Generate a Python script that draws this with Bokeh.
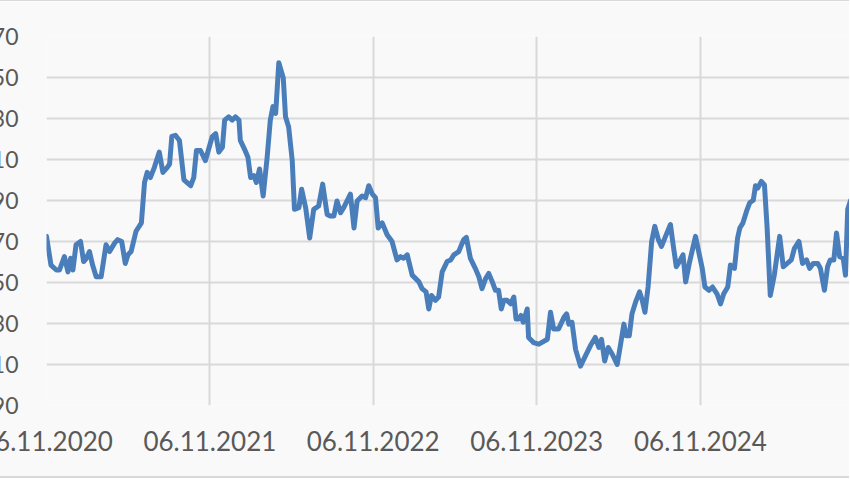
from datetime import datetime, timedelta
import pandas as pd
from bokeh.plotting import figure
from bokeh.models import FixedTicker, DatetimeTickFormatter, Range1d
from bokeh.embed import file_html
from bokeh.resources import INLINE

start_date = "2020-11-06"
day_offsets = [0, 10, 22, 29, 40, 48, 54, 59, 66, 76, 83, 89, 96, 103, 111, 122, 133, 141, 152, 159,
               168, 176, 182, 189, 200, 212, 219, 225, 232, 241, 252, 260, 270, 275, 280, 288, 297, 307, 322, 329,
               335, 344, 355, 370, 378, 385, 393, 398, 407, 415, 422, 430, 433, 442, 450, 456, 463, 469, 476, 484,
               493, 500, 506, 512, 519, 529, 534, 541, 549, 554, 564, 570, 579, 588, 597, 608, 617, 627, 634, 642,
               649, 657, 664, 679, 687, 694, 705, 713, 720, 728, 735, 741, 750, 761, 772, 783, 791, 798, 806, 817,
               832, 839, 848, 854, 860, 869, 876, 884, 895, 903, 910, 921, 932, 938, 947, 958, 966, 973, 981, 988,
               996, 1003, 1010, 1016, 1022, 1029, 1037, 1044, 1049, 1055, 1060, 1065, 1074, 1077, 1088, 1100, 1119, 1126, 1133, 1144,
               1156, 1162, 1167, 1174, 1182, 1193, 1204, 1215, 1226, 1234, 1240, 1247, 1255, 1264, 1275, 1282, 1290, 1295, 1302, 1308,
               1316, 1325, 1331, 1337, 1344, 1352, 1359, 1367, 1374, 1383, 1394, 1399, 1407, 1414, 1422, 1428, 1436, 1450, 1457, 1465,
               1471, 1480, 1488, 1498, 1506, 1513, 1522, 1528, 1537, 1544, 1549, 1556, 1564, 1571, 1579, 1584, 1589, 1597, 1604, 1610,
               1617, 1626, 1638, 1646, 1655, 1664, 1671, 1681, 1689, 1698, 1705, 1713, 1723, 1729, 1738, 1745, 1751, 1759, 1765, 1772,
               1780, 1785, 1790, 1796, 1805]
values = [172.5, 158.5, 156.1, 156.1, 162.6, 155.2, 161.8, 156.1, 168.4, 170.0, 160.2, 161.8, 165.1, 158.5, 152.8, 152.8, 168.4, 165.1, 169.2, 170.9,
          170.0, 159.3, 163.5, 165.1, 175.0, 179.1, 198.8, 203.7, 201.2, 206.2, 213.6, 203.7, 206.2, 207.8, 221.3, 221.8, 219.3, 200.1, 197.2, 201.2,
          214.4, 214.4, 209.5, 221.0, 222.6, 213.6, 216.0, 229.2, 230.8, 229.2, 230.8, 229.2, 219.3, 215.2, 211.1, 201.2, 202.1, 198.8, 205.4, 192.2,
          211.1, 229.2, 235.8, 232.5, 257.2, 249.8, 230.8, 225.9, 209.5, 185.7, 186.5, 195.5, 186.5, 171.7, 185.7, 187.3, 198.0, 183.2, 182.4, 182.4,
          189.8, 184.0, 186.5, 193.1, 176.6, 189.8, 192.2, 191.4, 197.2, 193.1, 191.4, 176.6, 179.1, 173.3, 170.0, 161.0, 162.6, 161.8, 163.5, 153.6,
          150.3, 147.0, 145.4, 137.1, 143.7, 141.3, 142.9, 155.2, 160.2, 161.0, 163.5, 165.1, 170.9, 172.0, 161.8, 156.9, 152.8, 147.0, 151.9, 154.4,
          150.3, 146.2, 146.2, 137.1, 141.3, 141.3, 139.6, 142.9, 132.2, 132.2, 133.9, 130.6, 137.1, 123.2, 120.7, 119.9, 122.3, 135.5, 127.3, 127.3,
          133.0, 134.7, 129.7, 130.6, 117.4, 109.2, 114.2, 119.1, 123.2, 118.3, 122.3, 111.7, 118.3, 115.0, 110.0, 119.1, 129.7, 124.0, 124.0, 134.7,
          140.4, 145.4, 141.3, 135.5, 147.8, 170.0, 177.4, 170.9, 167.6, 172.5, 178.3, 170.0, 157.7, 160.2, 163.5, 150.3, 159.3, 172.5, 165.1, 156.9,
          147.8, 146.2, 147.8, 144.5, 139.6, 144.5, 147.8, 158.5, 156.9, 171.7, 176.6, 179.1, 184.8, 188.9, 190.1, 197.2, 196.0, 199.3, 197.6, 176.6,
          143.7, 153.6, 172.5, 157.7, 159.3, 161.0, 166.7, 170.0, 159.3, 161.0, 156.9, 159.3, 159.3, 156.9, 146.2, 157.7, 161.0, 161.0, 174.1, 162.6,
          161.8, 153.6, 185.7, 189.8, 193.0]
x_tick_dates = ["2020-11-06", "2021-11-06", "2022-11-06", "2023-11-06", "2024-11-06"]
y_ticks = [90, 110, 130, 150, 170, 190, 210, 230, 250, 270]
visible_days = 1794

t0 = pd.Timestamp(start_date)
dates = [t0 + pd.Timedelta(days=d) for d in day_offsets]
x_ticks_ms = [pd.Timestamp(d).value // 10**6 for d in x_tick_dates]

FONT = "Lato"
TXT = "#595959"
GRID = "#d9d9d9"

p = figure(width=903, height=479, output_backend="svg", toolbar_location=None,
           x_axis_type="datetime",
           x_range=Range1d(t0, t0 + pd.Timedelta(days=visible_days)),
           y_range=Range1d(y_ticks[0], y_ticks[-1]),
           min_border_left=100, min_border_right=0, min_border_top=35, min_border_bottom=75,
           background_fill_color="#f9f9f9", border_fill_color="#f9f9f9",
           margin=(-1, 0, 0, -54),
           styles={"border-top": "2px solid #d9d9d9", "border-bottom": "2px solid #d9d9d9"})
p.outline_line_color = None

p.line(dates, values, line_color="#4a7ebb", line_width=5, line_join="round", line_cap="round")

p.xaxis.ticker = FixedTicker(ticks=x_ticks_ms)
p.xaxis.formatter = DatetimeTickFormatter(days="%d.%m.%Y", months="%d.%m.%Y", years="%d.%m.%Y")
p.yaxis.ticker = FixedTicker(ticks=y_ticks)

for ax in (p.xaxis[0], p.yaxis[0]):
    ax.axis_line_color = None
    ax.major_tick_line_color = None
    ax.minor_tick_line_color = None
    ax.major_label_text_font = FONT
    ax.major_label_text_color = TXT
p.xaxis.major_label_text_font_size = "26px"
p.yaxis.major_label_text_font_size = "23px"
p.xaxis.major_label_standoff = 19
p.yaxis.major_label_standoff = 22

p.xgrid.grid_line_color = GRID
p.ygrid.grid_line_color = GRID
p.xgrid.grid_line_width = 2
p.ygrid.grid_line_width = 2

open("out.html", "w").write(file_html(p, INLINE))
